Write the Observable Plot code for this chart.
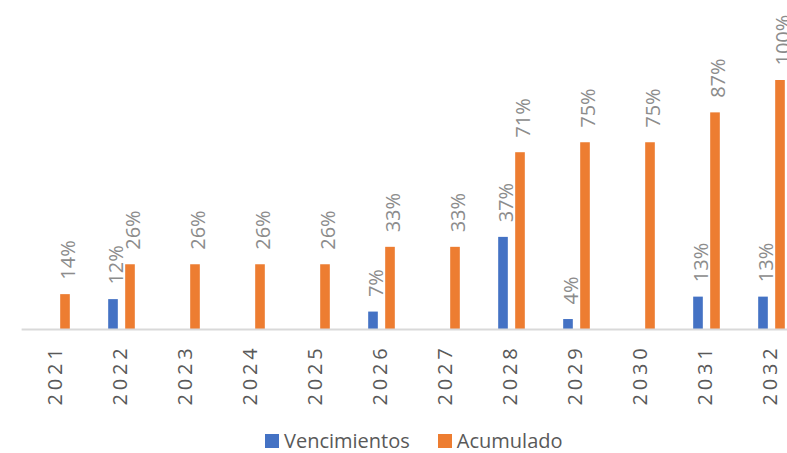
<!DOCTYPE html>
<html>
<head>
<meta charset="utf-8">
<script src="https://cdn.jsdelivr.net/npm/d3@7"></script>
<script src="https://cdn.jsdelivr.net/npm/@observablehq/plot@0.6"></script>
<style>
  html, body { margin: 0; padding: 0; background: #fff; overflow: hidden; width: 787px; height: 453px; }
  #chart { width: 787px; overflow: hidden; }
  #chart svg { display: block; max-width: none !important; }
  .legend { position: absolute; top: 431px; left: 265px; display: flex; align-items: center; line-height: 20px;
            font-family: "Open Sans", sans-serif; font-size: 20px; color: #595959; }
  .legend .item { display: flex; align-items: center; margin-right: 28px; }
  .legend .sw { width: 14px; height: 14px; margin-right: 5px; }
</style>
</head>
<body>
<div id="chart"></div>
<div class="legend">
  <div class="item"><div class="sw" style="background:#4472C4"></div><span>Vencimientos</span></div>
  <div class="item"><div class="sw" style="background:#ED7D31"></div><span>Acumulado</span></div>
</div>
<script>
const years = ["2021","2022","2023","2024","2025","2026","2027","2028","2029","2030","2031","2032"];
const vencimientos = [null, 0.12, null, null, null, 0.07, null, 0.37, 0.04, null, 0.13, 0.13];
const acumulado = [0.14, 0.26, 0.26, 0.26, 0.26, 0.33, 0.33, 0.71, 0.75, 0.75, 0.87, 1.00];
const seriesNames = ["Vencimientos", "Acumulado"];
const seriesColors = ["#4472C4", "#ED7D31"];

const venData = years.map((y, i) => ({year: y, value: vencimientos[i]})).filter(d => d.value != null);
const acuData = years.map((y, i) => ({year: y, value: acumulado[i]}));

const W = 806, H = 425;
const step = (W - 21.6) / years.length;
const half = step / 2;
const barW = 10, off = 8.5;
const fmt = d3.format(".0%");

const chart = Plot.plot({
  width: W,
  height: H,
  marginLeft: 21.6,
  marginRight: 0,
  marginTop: 80,
  marginBottom: 96,
  x: {domain: years, padding: 0, axis: null},
  y: {domain: [0, 1], axis: null},
  style: {fontFamily: "'Open Sans', sans-serif", background: "#fff", maxWidth: "none"},
  marks: [
    Plot.barY(venData, {x: "year", y: "value", fill: seriesColors[0],
      insetLeft: half - off - barW / 2, insetRight: half + off - barW / 2}),
    Plot.barY(acuData, {x: "year", y: "value", fill: seriesColors[1],
      insetLeft: half + off - barW / 2, insetRight: half - off - barW / 2}),
    Plot.ruleY([0], {stroke: "#d9d9d9", strokeWidth: 2}),
    Plot.text(venData, {x: "year", y: "value", text: d => fmt(d.value), rotate: -90,
      textAnchor: "start", dx: -off + 3, dy: -15, fontSize: 20, fill: "#8c8c8c"}),
    Plot.text(acuData, {x: "year", y: "value", text: d => fmt(d.value), rotate: -90,
      textAnchor: "start", dx: off + 3, dy: -15, fontSize: 20, fill: "#8c8c8c"}),
    Plot.text(years, {x: d => d, frameAnchor: "bottom", text: d => d, rotate: -90,
      textAnchor: "end", dy: 15, dx: 5, fontSize: 20, fill: "#595959"})
  ]
});
chart.style.maxWidth = "none";
// letter-spacing for year labels
d3.select(chart).selectAll("text").filter(function() { return years.includes(this.textContent); })
  .style("letter-spacing", "3.8px");
document.getElementById("chart").appendChild(chart);
</script>
</body>
</html>
